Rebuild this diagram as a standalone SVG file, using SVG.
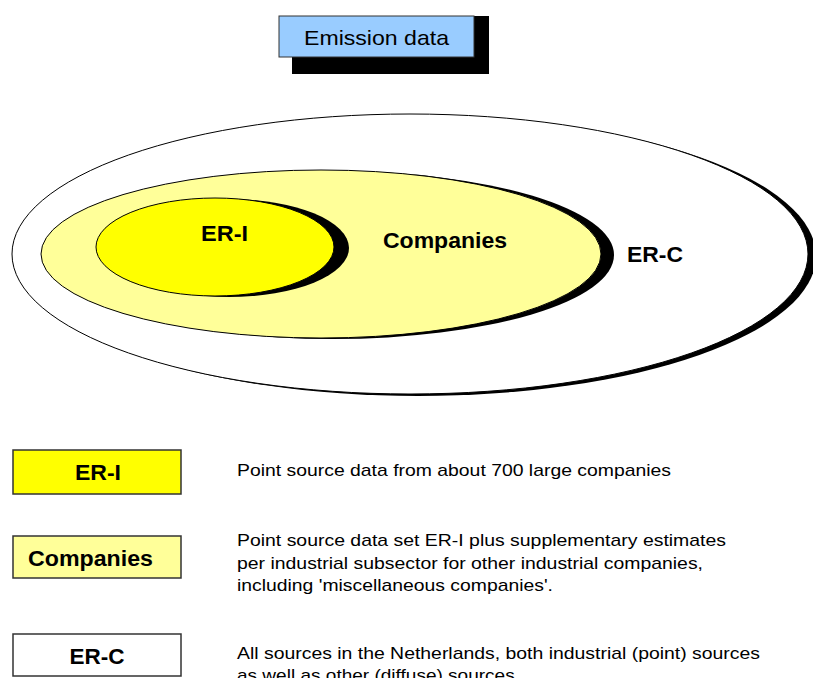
<svg xmlns="http://www.w3.org/2000/svg" width="813" height="678" viewBox="0 0 813 678">
  <style>
    .lbl { font-family: "Liberation Sans", Arial, sans-serif; font-weight: bold; font-size: 22px; fill: #000; }
    .desc { font-family: "Liberation Sans", Arial, sans-serif; font-size: 17px; fill: #000; }
    .shadow { fill: #000; stroke: none; }
    .edge { stroke: #000; stroke-width: 1; }
    .key { stroke: #333; stroke-width: 1.5; }
  </style>
  <rect width="813" height="678" fill="#fff"/>

  <!-- title box -->
  <g id="title">
    <rect class="shadow" x="292" y="16" width="197" height="58"/>
    <rect x="279" y="16" width="195" height="41" fill="#99ccff" stroke="#333" stroke-width="1"/>
    <text x="376.5" y="45" text-anchor="middle" font-family="Liberation Sans, Arial, sans-serif" font-size="21" textLength="145" lengthAdjust="spacingAndGlyphs">Emission data</text>
  </g>

  <!-- nested sets -->
  <g id="er-c">
    <ellipse class="shadow" cx="418" cy="256" rx="398" ry="140"/>
    <ellipse class="edge" cx="410" cy="254" rx="398" ry="140" fill="#fff"/>
    <text class="lbl" x="627" y="262" textLength="56" lengthAdjust="spacingAndGlyphs">ER-C</text>
  </g>
  <g id="companies">
    <ellipse class="shadow" cx="333" cy="255" rx="281" ry="84"/>
    <ellipse class="edge" cx="321" cy="254" rx="280" ry="84" fill="#ffff99"/>
    <text class="lbl" x="383" y="248" textLength="124" lengthAdjust="spacingAndGlyphs">Companies</text>
  </g>
  <g id="er-i">
    <ellipse class="shadow" cx="229" cy="248" rx="120" ry="49"/>
    <ellipse class="edge" cx="215" cy="247" rx="119" ry="49" fill="#ffff00"/>
    <text class="lbl" x="201" y="241" textLength="47" lengthAdjust="spacingAndGlyphs">ER-I</text>
  </g>

  <!-- legend -->
  <g id="key-er-i">
    <rect class="key" x="13" y="450" width="168" height="44" fill="#ffff00"/>
    <text class="lbl" x="98" y="480" text-anchor="middle" textLength="46" lengthAdjust="spacingAndGlyphs">ER-I</text>
    <text class="desc" x="237" y="476" textLength="434" lengthAdjust="spacingAndGlyphs">Point source data from about 700 large companies</text>
  </g>
  <g id="key-companies">
    <rect class="key" x="13" y="536" width="168" height="42" fill="#ffff99"/>
    <text class="lbl" x="28" y="566" textLength="125" lengthAdjust="spacingAndGlyphs">Companies</text>
    <text class="desc" x="237" y="546" textLength="489" lengthAdjust="spacingAndGlyphs">Point source data set ER-I plus supplementary estimates</text>
    <text class="desc" x="237" y="569" textLength="466" lengthAdjust="spacingAndGlyphs">per industrial subsector for other industrial companies,</text>
    <text class="desc" x="237" y="591" textLength="316" lengthAdjust="spacingAndGlyphs">including 'miscellaneous companies'.</text>
  </g>
  <g id="key-er-c">
    <rect class="key" x="13" y="634" width="168" height="42" fill="#fff"/>
    <text class="lbl" x="97" y="664" text-anchor="middle" textLength="55" lengthAdjust="spacingAndGlyphs">ER-C</text>
    <text class="desc" x="237" y="659" textLength="523" lengthAdjust="spacingAndGlyphs">All sources in the Netherlands, both industrial (point) sources</text>
    <text class="desc" x="237" y="681" textLength="283" lengthAdjust="spacingAndGlyphs">as well as other (diffuse) sources.</text>
  </g>
</svg>
